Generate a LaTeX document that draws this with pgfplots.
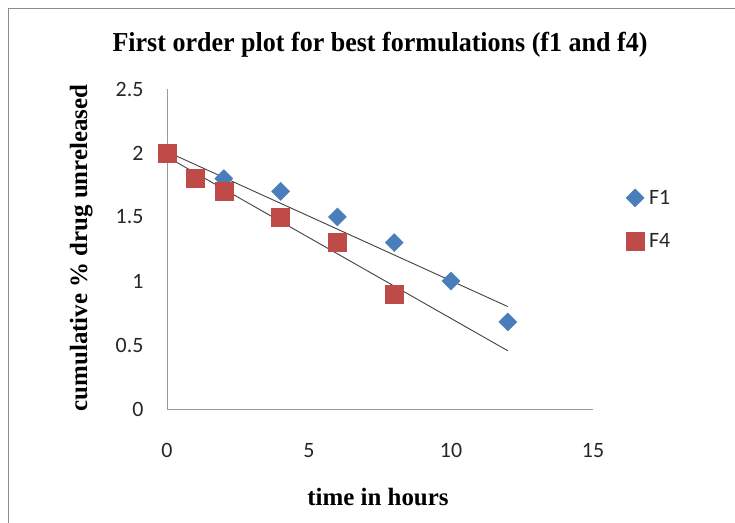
\documentclass[border=0pt]{standalone}
\usepackage{pgfplots}
\pgfplotsset{compat=1.18}
\usepackage{fontspec}
\setmainfont{Liberation Serif}
\newfontfamily\calibri{Carlito}
\definecolor{fblue}{HTML}{4A7EBB}
\definecolor{fred}{HTML}{BE4B48}
\definecolor{axgray}{HTML}{9A9A9A}
\definecolor{framegray}{HTML}{8C8C8C}

\begin{document}
\begin{tikzpicture}[x=1bp,y=1bp]
\useasboundingbox (0,0) rectangle (735,523);
% chart area frame
\draw[framegray, line width=1.3bp] (8.5,-5) -- (8.5,514.5) -- (745,514.5);
\begin{axis}[
  at={(167bp,114bp)}, anchor=south west,
  scale only axis, width=426bp, height=320bp,
  xmin=0, xmax=15, ymin=0, ymax=2.5,
  xtick={0,5,10,15}, ytick={0,0.5,1,1.5,2,2.5},
  axis lines*=left,
  axis line style={axgray, line width=0.9bp},
  major tick length=0pt,
  /pgf/number format/assume math mode=true,
  tick label style={font=\calibri\fontsize{22}{22}\selectfont, text=black!85},
  xticklabel style={yshift=-31bp},
  yticklabel style={xshift=-20bp},
  legend style={at={(1.077,0.691)}, anchor=north west, draw=none, fill=none,
    inner sep=0pt, font=\calibri\fontsize{22}{22}\selectfont,
    row sep=24bp, text=black!85},
  legend cell align=left,
  clip=false,
]
% fitted trend lines
\addplot[forget plot, black!75, line width=0.9bp] coordinates {(0,2.01) (12,0.80)};
\addplot[forget plot, black!75, line width=0.9bp] coordinates {(0,1.97) (12,0.455)};
% F1
\addplot[only marks, mark=square*, mark size=6.4bp,
  mark options={rotate=45, fill=fblue, draw=fblue}]
  coordinates {(0,2.0) (2,1.8) (4,1.7) (6,1.5) (8,1.3) (10,1.0) (12,0.68)};
\addlegendentry{\hspace{3bp}F1}
% F4
\addplot[only marks, mark=square*, mark size=9bp,
  mark options={fill=fred, draw=fred}]
  coordinates {(0,2.0) (1,1.8) (2,1.7) (4,1.5) (6,1.3) (8,0.9)};
\addlegendentry{\hspace{3bp}F4}
\end{axis}
\node[font=\bfseries\fontsize{27.5}{27.5}\selectfont, anchor=base] at (380,471) {\scalebox{0.95}[1]{First order plot for best formulations (f1 and f4)}};
\node[font=\bfseries\fontsize{25}{25}\selectfont, rotate=90, anchor=base] at (87,275) {cumulative \% drug unreleased};
\node[font=\bfseries\fontsize{25}{25}\selectfont, anchor=base] at (378,17) {time in hours};
\end{tikzpicture}
\end{document}
